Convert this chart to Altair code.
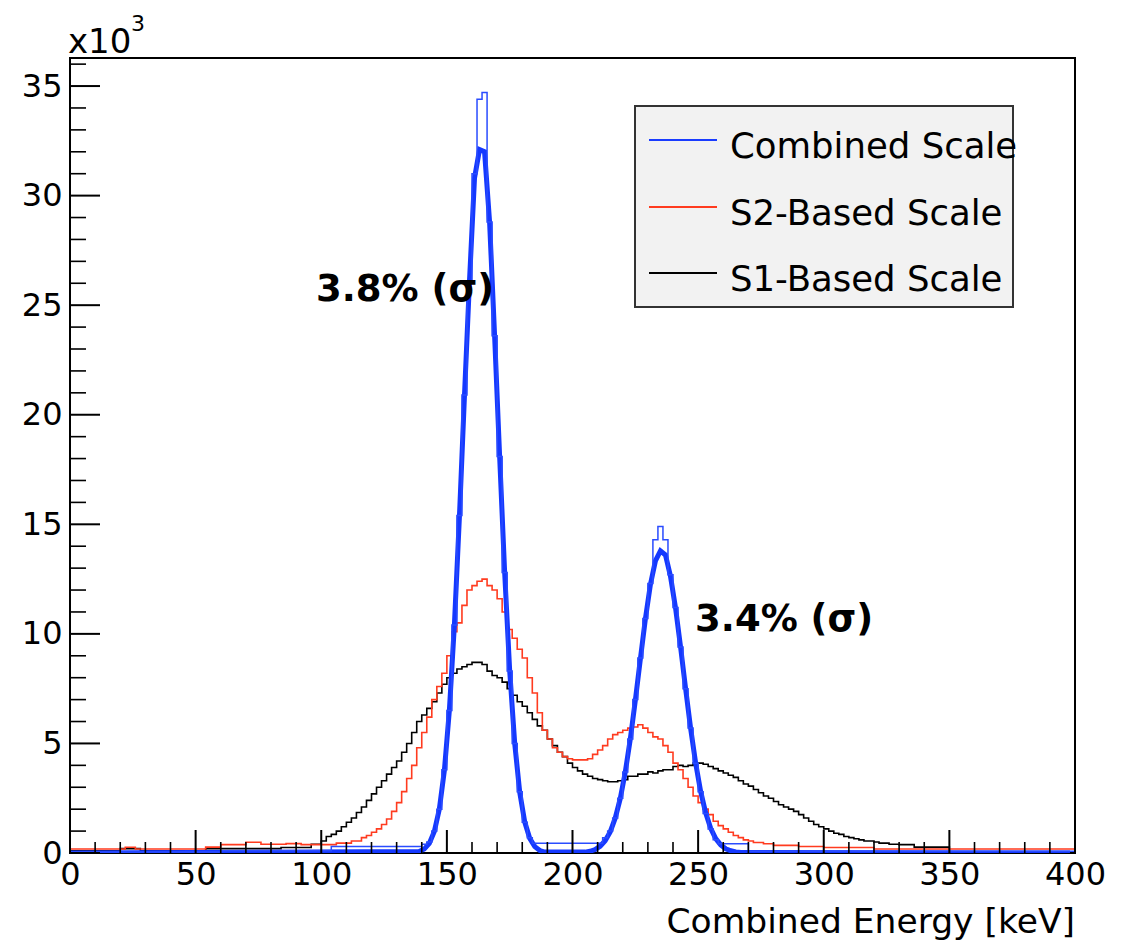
import altair as alt
import pandas as pd

# ---------------- data (values in units of 10^3 counts, energy in keV) -------------
# S1-Based Scale (black)
s1_edges = [0, 20, 28, 54, 84, 96] + list(range(100, 330, 2)) + [330, 336, 350]
s1_values = [0.1, 0.2, 0.1, 0.2, 0.25, 0.4,
             0.55, 0.75, 0.85, 1.0, 1.2, 1.4, 1.6, 1.85, 2.1, 2.4,
             2.7, 3.0, 3.3, 3.6, 3.9, 4.2, 4.6, 5.0, 5.5, 6.0,
             6.3, 6.6, 6.9, 7.3, 7.7, 8.0, 8.2, 8.4, 8.5, 8.6,
             8.7, 8.7, 8.6, 8.3, 8.1, 8.0, 7.8, 7.5, 7.2, 6.9,
             6.7, 6.4, 6.1, 5.8, 5.6, 5.2, 4.9, 4.6, 4.4, 4.1,
             3.9, 3.75, 3.6, 3.5, 3.4, 3.35, 3.3, 3.25, 3.25, 3.3,
             3.35, 3.5, 3.5, 3.6, 3.6, 3.7, 3.65, 3.75, 3.8, 3.8,
             3.95, 4.0, 3.95, 4.0, 4.1, 4.1, 4.05, 3.95, 3.85, 3.75,
             3.65, 3.55, 3.45, 3.3, 3.15, 3.05, 2.9, 2.75, 2.6, 2.5,
             2.35, 2.2, 2.1, 2.0, 1.9, 1.75, 1.6, 1.45, 1.3, 1.2,
             1.1, 1.0, 0.9, 0.85, 0.75, 0.7, 0.65, 0.6, 0.55, 0.55,
             0.5, 0.45, 0.45, 0.4, 0.4,
             0.38, 0.27, 0.05]

# S2-Based Scale (red)
s2_edges = [0, 22, 26, 54, 60, 70, 76, 86, 92, 106, 112] + list(range(116, 272, 2)) + [272, 276, 280, 290, 300, 320]
s2_values = [0.18, 0.26, 0.18, 0.27, 0.38, 0.49, 0.4, 0.43, 0.38, 0.45, 0.55,
             0.7, 0.8, 0.95, 1.1, 1.3, 1.55, 1.9, 2.3, 2.8, 3.4,
             4.0, 4.8, 5.5, 6.2, 7.0, 7.6, 8.2, 9.0, 10.1, 10.5,
             11.3, 12.0, 12.2, 12.4, 12.5, 12.2, 12.0, 11.6, 11.0, 10.2,
             9.8, 9.3, 8.9, 8.0, 7.3, 6.4, 5.6, 5.2, 4.8, 4.6,
             4.4, 4.3, 4.25, 4.25, 4.25, 4.3, 4.5, 4.7, 4.9, 5.2,
             5.4, 5.5, 5.6, 5.7, 5.75, 5.85, 5.7, 5.5, 5.3, 5.2,
             4.9, 4.6, 4.1, 3.8, 3.4, 3.0, 2.6, 2.3, 2.0, 1.75,
             1.45, 1.25, 1.1, 0.95, 0.8, 0.7, 0.6, 0.55,
             0.48, 0.42, 0.35, 0.3, 0.25, 0.18]

# Combined Scale histogram (thin blue)
cb_edges = [0, 60, 104] + list(range(140, 184, 2)) + [184] + list(range(212, 256, 2)) + [256, 258, 270]
cb_values = [0.05, 0.1, 0.3,
             0.4, 0.5, 1.0, 2.0, 3.8, 6.5, 10.4, 15.4, 20.9, 26.1,
             31.0, 34.4, 34.7, 28.8, 23.6, 18.1, 12.8, 8.3, 5.0, 2.8,
             1.4, 0.7,
             0.45,
             0.7, 1.0, 1.6, 2.5, 3.7, 5.2, 7.0, 8.9, 10.7, 12.3,
             14.3, 14.9, 14.3, 12.7, 11.2, 9.4, 7.5, 5.7, 4.1, 2.8,
             1.8, 1.1,
             0.6, 0.42, 0.08]

# Combined Scale peak curves (thick blue), read at 2 keV steps
ct_x = [0] + list(range(139, 191, 2)) + list(range(205, 269, 2)) + [398]
ct_values = [0.0,
             0.07, 0.18, 0.44, 0.98, 2.0, 3.76, 6.52, 10.42, 15.36, 20.86,
             26.1, 30.8, 32.1, 32.0, 28.8, 23.6, 18.1, 12.8, 8.32, 5.0,
             2.77, 1.41, 0.66, 0.29, 0.11, 0.04,
             0.04, 0.08, 0.16, 0.31, 0.56, 0.96, 1.59, 2.48, 3.69, 5.2,
             6.96, 8.84, 10.68, 12.25, 13.33, 13.79, 13.6, 12.63, 11.19, 9.41,
             7.52, 5.7, 4.11, 2.81, 1.83, 1.13, 0.66, 0.37, 0.19, 0.10,
             0.05, 0.02,
             0.0]

legend_names = ["Combined Scale", "S2-Based Scale", "S1-Based Scale"]
legend_colors = ["#1a3cff", "#ff3b1f", "#000000"]

annot_text = ["3.8% (σ)", "3.4% (σ)"]
annot_x = [97.9, 248.8]
annot_y = [25.7, 10.63]

x_major = [0, 50, 100, 150, 200, 250, 300, 350, 400]
x_minor = [v for v in range(10, 400, 10) if v % 50 != 0]
y_major = [0, 5, 10, 15, 20, 25, 30, 35]
y_minor = [v for v in range(1, 37) if v % 5 != 0]

# ---------------- chart -------------
W, H = 1005, 795
YMAX = 36.28
FONT = "DejaVu Sans"


def hist_df(edges, values, end):
    assert len(edges) == len(values), (len(edges), len(values))
    e = list(edges) + [end]
    v = list(values) + [values[-1]]
    return pd.DataFrame({"e": e, "v": v})


assert len(ct_x) == len(ct_values), (len(ct_x), len(ct_values))

xs = alt.Scale(domain=[0, 400], nice=False, zero=False)
ys = alt.Scale(domain=[0, YMAX], nice=False, zero=False)

x_axis = alt.Axis(values=x_major, ticks=False, domain=False, grid=False, title=None,
                  labelFont=FONT, labelFontSize=32, labelColor="black", labelPadding=6,
                  labelFlush=False, format="d")
y_axis = alt.Axis(values=y_major, ticks=False, domain=False, grid=False, title=None,
                  labelFont=FONT, labelFontSize=32, labelColor="black", labelPadding=8,
                  labelFlush=False, format="d")


def X(field):
    return alt.X(field, scale=xs, axis=x_axis)


def Y(field):
    return alt.Y(field, scale=ys, axis=y_axis)


def hist_layer(df, color, width, interp="step-after"):
    return alt.Chart(df).mark_line(interpolate=interp, color=color,
                                   strokeWidth=width, clip=True).encode(
        x=X("e:Q"), y=Y("v:Q"))


black = hist_layer(hist_df(s1_edges, s1_values, 400), "#000000", 1.6)
red = hist_layer(hist_df(s2_edges, s2_values, 400), "#ff3b1f", 1.6)
thick = hist_layer(pd.DataFrame({"e": ct_x, "v": ct_values}), "#1438ff", 5, interp="linear")
thin = hist_layer(hist_df(cb_edges, cb_values, 400), "#2a4cff", 1.5)

xt_major = alt.Chart(pd.DataFrame({"e": x_major})).mark_rule(color="black", strokeWidth=2).encode(
    x=X("e:Q"), y=alt.value(H), y2=alt.value(H - 23))
xt_minor = alt.Chart(pd.DataFrame({"e": x_minor})).mark_rule(color="black", strokeWidth=1.6).encode(
    x=X("e:Q"), y=alt.value(H), y2=alt.value(H - 11))
yt_major = alt.Chart(pd.DataFrame({"v": y_major})).mark_rule(color="black", strokeWidth=2).encode(
    y=Y("v:Q"), x=alt.value(0), x2=alt.value(30))
yt_minor = alt.Chart(pd.DataFrame({"v": y_minor})).mark_rule(color="black", strokeWidth=1.6).encode(
    y=Y("v:Q"), x=alt.value(0), x2=alt.value(16))

annots = alt.Chart(pd.DataFrame({"e": annot_x, "v": annot_y, "t": annot_text})).mark_text(
    align="left", baseline="middle", font=FONT, fontSize=37, fontWeight="bold", color="black").encode(
    x=X("e:Q"), y=Y("v:Q"), text="t:N")

one = pd.DataFrame({"a": [0]})
leg_box = alt.Chart(one).mark_rect(fill="#f2f2f2", stroke="#333333", strokeWidth=2).encode(
    x=alt.value(565), x2=alt.value(943), y=alt.value(48), y2=alt.value(249))
leg_df = pd.DataFrame({"name": legend_names, "c": legend_colors,
                       "py": [82, 149, 215], "ty": [89, 156, 222]})
leg_lines = alt.Chart(leg_df).mark_rule(strokeWidth=2).encode(
    x=alt.value(579), x2=alt.value(647), y=alt.Y("py:Q", scale=None, axis=None),
    color=alt.Color("c:N", scale=None))
leg_text = alt.Chart(leg_df).mark_text(align="left", baseline="middle", font=FONT,
                                       fontSize=35.5, color="black").encode(
    x=alt.value(660), y=alt.Y("ty:Q", scale=None, axis=None), text="name:N")

mult = alt.Chart(one).mark_text(align="left", baseline="alphabetic", font=FONT,
                                fontSize=34, color="black", text="x10").encode(
    x=alt.value(-2), y=alt.value(-5))
sup = alt.Chart(one).mark_text(align="left", baseline="alphabetic", font=FONT,
                               fontSize=22, color="black", text="3").encode(
    x=alt.value(61), y=alt.value(-27))
xtitle = alt.Chart(one).mark_text(align="right", baseline="alphabetic", font=FONT,
                                  fontSize=34.5, color="black", text="Combined Energy [keV]").encode(
    x=alt.value(W), y=alt.value(875))

chart = alt.layer(
    black, red, thick, thin,
    xt_major, xt_minor, yt_major, yt_minor,
    annots, leg_box, leg_lines, leg_text, mult, sup, xtitle,
).resolve_scale(y="shared").properties(
    width=W, height=H,
    autosize=alt.AutoSizeParams(type="none"),
    padding={"left": 70, "top": 58, "right": 54, "bottom": 94},
    background="white",
).configure_view(stroke="black", strokeWidth=2)

chart.save("out.html", embed_options={"renderer": "svg", "actions": False})
